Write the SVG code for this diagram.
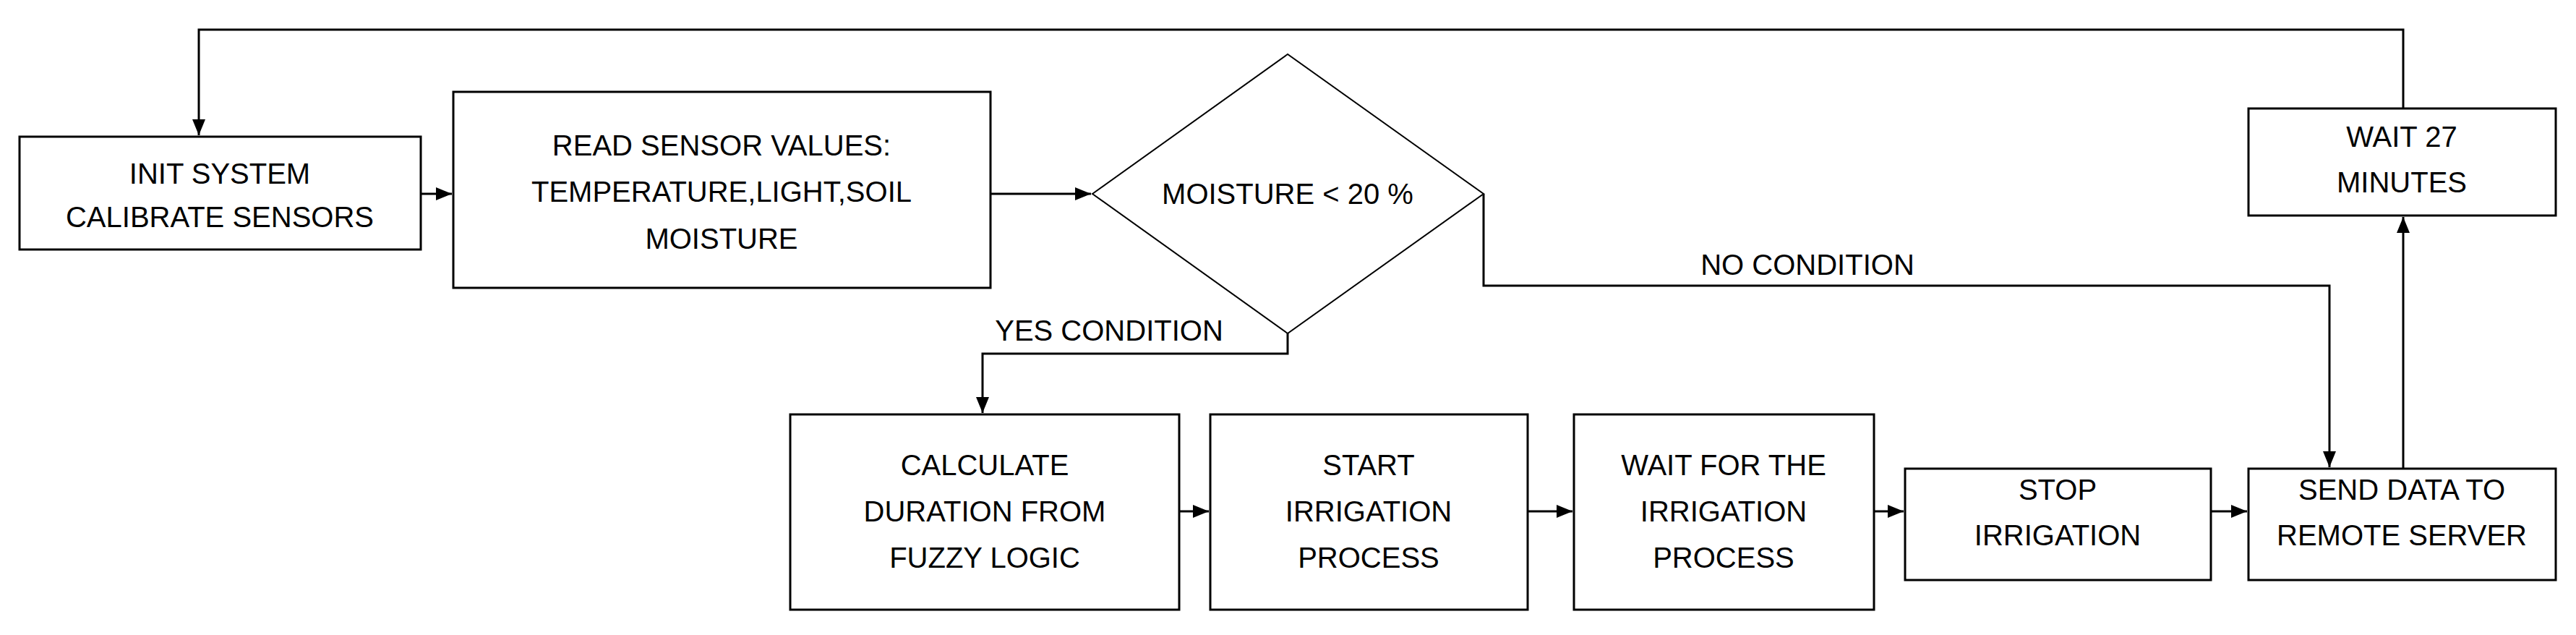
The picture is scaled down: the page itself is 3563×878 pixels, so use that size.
<svg xmlns="http://www.w3.org/2000/svg" width="3563" height="878" viewBox="0 0 3563 878">
<style>
.box{fill:#fff;stroke:#000;stroke-width:3}
.t{font-family:"Liberation Sans",Arial,sans-serif;font-size:40px;text-anchor:middle;fill:#000}
.c{fill:none;stroke:#000;stroke-width:3}
</style>
<defs><marker id="a" markerWidth="10" markerHeight="10" refX="10" refY="5" orient="auto" markerUnits="userSpaceOnUse" viewBox="0 0 10 10"><path d="M0,0L10,5L0,10z" fill="#000"/></marker>
<marker id="A" markerWidth="22" markerHeight="22" refX="22" refY="11" orient="auto" markerUnits="userSpaceOnUse" viewBox="0 0 22 22"><path d="M0,2L22,11L0,20z" fill="#000"/></marker></defs>
<g id="connectors">
<path class="c" d="M582,268H625" marker-end="url(#A)"/>
<path class="c" d="M1370,268H1509" marker-end="url(#A)"/>
<path class="c" d="M1781,461V489H1359V571" marker-end="url(#A)"/>
<path class="c" d="M2052,268V395H3222V646" marker-end="url(#A)"/>
<path class="c" d="M1631,707H1672" marker-end="url(#A)"/>
<path class="c" d="M2113,707H2175" marker-end="url(#A)"/>
<path class="c" d="M2592,707H2633" marker-end="url(#A)"/>
<path class="c" d="M3058,707H3108" marker-end="url(#A)"/>
<path class="c" d="M3324,648V300" marker-end="url(#A)"/>
<path class="c" d="M3324,150V41H275V187" marker-end="url(#A)"/>
</g>
<g id="init"><rect class="box" x="27" y="189" width="555" height="156"/><text class="t" x="304" y="254">INIT SYSTEM</text><text class="t" x="304" y="314">CALIBRATE SENSORS</text></g>
<g id="read"><rect class="box" x="627" y="127" width="743" height="271"/><text class="t" x="998" y="215">READ SENSOR VALUES:</text><text class="t" x="998" y="279">TEMPERATURE,LIGHT,SOIL</text><text class="t" x="998" y="344">MOISTURE</text></g>
<g id="decision"><path class="box" d="M1511,268L1781,75L2052,268L1781,461Z" style="stroke-width:2"/><text class="t" x="1781" y="282">MOISTURE &lt; 20 %</text></g>
<g id="labels"><text class="t" x="1534" y="471">YES CONDITION</text><text class="t" x="2500" y="380">NO CONDITION</text></g>
<g id="calc"><rect class="box" x="1093" y="573" width="538" height="270"/><text class="t" x="1362" y="657">CALCULATE</text><text class="t" x="1362" y="721">DURATION FROM</text><text class="t" x="1362" y="785">FUZZY LOGIC</text></g>
<g id="start"><rect class="box" x="1674" y="573" width="439" height="270"/><text class="t" x="1893" y="657">START</text><text class="t" x="1893" y="721">IRRIGATION</text><text class="t" x="1893" y="785">PROCESS</text></g>
<g id="waitproc"><rect class="box" x="2177" y="573" width="415" height="270"/><text class="t" x="2384" y="657">WAIT FOR THE</text><text class="t" x="2384" y="721">IRRIGATION</text><text class="t" x="2384" y="785">PROCESS</text></g>
<g id="stop"><rect class="box" x="2635" y="648" width="423" height="154"/><text class="t" x="2846" y="691">STOP</text><text class="t" x="2846" y="754">IRRIGATION</text></g>
<g id="send"><rect class="box" x="3110" y="648" width="425" height="154"/><text class="t" x="3322" y="691">SEND DATA TO</text><text class="t" x="3322" y="754">REMOTE SERVER</text></g>
<g id="wait27"><rect class="box" x="3110" y="150" width="425" height="148"/><text class="t" x="3322" y="203">WAIT 27</text><text class="t" x="3322" y="266">MINUTES</text></g>
</svg>
